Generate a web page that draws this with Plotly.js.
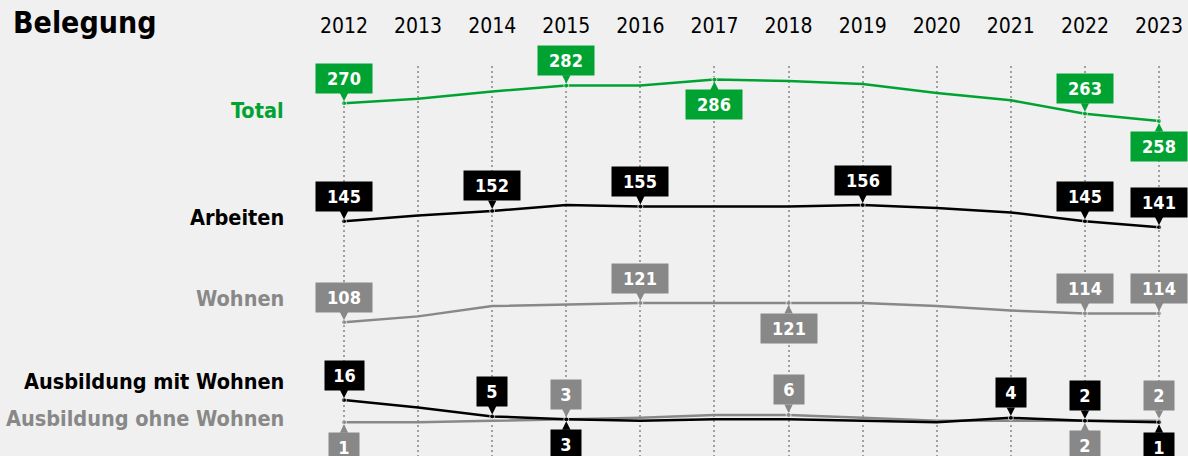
<!DOCTYPE html>
<html>
<head>
<meta charset="utf-8">
<script src="https://cdn.plot.ly/plotly-3.0.1.min.js"></script>
<style>
  html, body { margin: 0; padding: 0; background: #f0f0f0; }
  #chart { width: 1188px; height: 456px; }
</style>
</head>
<body>
<div id="chart"></div>
<script>
// ---- data ----
const years = [2012, 2013, 2014, 2015, 2016, 2017, 2018, 2019, 2020, 2021, 2022, 2023];
const yearLabels = years.map(String);
const seriesNames = ["Total", "Arbeiten", "Wohnen", "Ausbildung mit Wohnen", "Ausbildung ohne Wohnen"];
const total    = [270, 273, 278, 282, 282, 286, 285, 283, 277, 272, 263, 258];
const arbeiten = [145, 149, 152, 156, 155, 155, 155, 156, 154, 151, 145, 141];
const wohnen   = [108, 112, 119, 120, 121, 121, 121, 121, 119, 116, 114, 114];
const ausbMit  = [16, 11, 5, 3, 2, 3, 3, 2, 1, 4, 2, 1];
const ausbOhne = [1, 1, 2, 3, 4, 6, 6, 4, 2, 2, 2, 2];

// which years get a value callout, and on which side (styling, not data)
const calloutYears = {
  total:    [2012, 2015, 2017, 2022, 2023],
  arbeiten: [2012, 2014, 2016, 2019, 2022, 2023],
  wohnen:   [2012, 2016, 2018, 2022, 2023],
  ausbMit:  [2012, 2014, 2015, 2021, 2022, 2023],
  ausbOhne: [2012, 2015, 2018, 2022, 2023]
};
const calloutSides = {
  total:    ["up", "up", "down", "up", "down"],
  arbeiten: ["up", "up", "up", "up", "up", "up"],
  wohnen:   ["up", "up", "down", "up", "up"],
  ausbMit:  ["up", "up", "down", "up", "up", "down"],
  ausbOhne: ["down", "up", "up", "down", "up"]
};

// ---- style ----
const GREEN = "#00a332";
const BLACK = "#000000";
const GREY = "#888888";
const BG = "#f0f0f0";
const FONT = "DejaVu Sans Condensed";

const series = [
  {key: "ausbOhne", name: seriesNames[4], values: ausbOhne, color: GREY,  axis: "y4", labelY: 0.0956},
  {key: "ausbMit",  name: seriesNames[3], values: ausbMit,  color: BLACK, axis: "y4", labelY: 0.1910},
  {key: "wohnen",   name: seriesNames[2], values: wohnen,   color: GREY,  axis: "y3", labelY: 0.4026},
  {key: "arbeiten", name: seriesNames[1], values: arbeiten, color: BLACK, axis: "y2", labelY: 0.6128},
  {key: "total",    name: seriesNames[0], values: total,    color: GREEN, axis: "y",  labelY: 0.8859}
];

const boxWidth = {1: 22, 2: 31, 3: 48};
const traces = [];
const annotations = [];

series.forEach(s => {
  const cy = calloutYears[s.key];
  traces.push({
    type: "scatter",
    mode: "lines+markers",
    x: years,
    y: s.values,
    yaxis: s.axis,
    line: {color: s.color, width: 2.5},
    marker: {color: s.color, size: years.map(yr => cy.includes(yr) ? 5 : 0)},
    hoverinfo: "skip",
    showlegend: false,
    cliponaxis: false
  });
  cy.forEach((yr, i) => {
    const v = s.values[years.indexOf(yr)];
    const txt = String(v);
    annotations.push({
      x: yr, y: v, xref: "x", yref: s.axis,
      text: "<b>" + txt + "</b>",
      font: {family: FONT, size: 18, color: "#ffffff"},
      bgcolor: s.color,
      borderpad: 4,
      width: boxWidth[txt.length],
      height: 21,
      showarrow: true,
      arrowhead: 2,
      arrowsize: 1.2,
      arrowwidth: 1.4,
      arrowcolor: s.color,
      standoff: 2,
      ax: 0,
      ay: calloutSides[s.key][i] === "up" ? -25 : 25
    });
  });
  annotations.push({
    xref: "paper", yref: "paper",
    x: 286 / 1188, y: s.labelY,
    xanchor: "right", yanchor: "middle",
    text: "<b>" + s.name + "</b>",
    font: {family: FONT, size: 21.5, color: s.color},
    showarrow: false
  });
});

const hiddenY = (domain, range) => ({
  domain: domain, range: range, visible: false, fixedrange: true
});

const layout = {
  width: 1188, height: 456,
  paper_bgcolor: BG, plot_bgcolor: BG,
  margin: {l: 0, r: 0, t: 66, b: 0, pad: 0},
  title: {
    text: "<b>Belegung</b>",
    font: {family: FONT, size: 30, color: "#000000"},
    x: 13 / 1188, xanchor: "left", xref: "container",
    y: 1 - 22 / 456, yanchor: "middle", yref: "container"
  },
  xaxis: {
    range: [2007.357, 2023.391],
    side: "top",
    tickmode: "array",
    tickvals: years,
    ticktext: yearLabels,
    ticks: "outside",
    ticklen: 24,
    tickcolor: "rgba(0,0,0,0)",
    tickfont: {family: FONT, size: 21, color: "#000000"},
    showgrid: true,
    gridcolor: "#a0a0a0",
    gridwidth: 2,
    griddash: "2px,3px",
    zeroline: false,
    showline: false,
    fixedrange: true
  },
  yaxis:  hiddenY([0.758974, 1], [231.69, 295.20]),
  yaxis2: hiddenY([0.502564, 0.758974], [118.85, 186.42]),
  yaxis3: hiddenY([0.246154, 0.502564], [82.53, 150.09]),
  yaxis4: hiddenY([0, 0.246154], [-21.77, 43.09]),
  annotations: annotations,
  showlegend: false
};

Plotly.newPlot("chart", traces, layout, {staticPlot: true, displayModeBar: false});
</script>
</body>
</html>
